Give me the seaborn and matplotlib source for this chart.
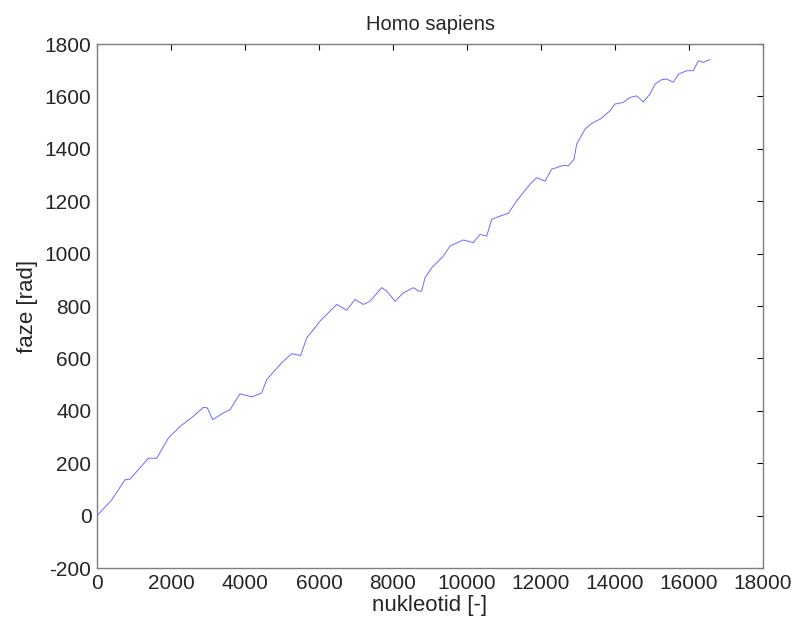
import matplotlib
matplotlib.use("Agg")
import matplotlib.pyplot as plt
import seaborn as sns
import pandas as pd

nucleotide = [0, 397, 757, 892, 1387, 1613, 1928, 2243, 2604, 2874, 2982, 3126, 3414,
              3595, 3865, 4180, 4450, 4586, 4991, 5261, 5504, 5667, 6027, 6477, 6748,
              6973, 7198, 7378, 7694, 7829, 8054, 8279, 8550, 8685, 8775, 8865, 9045,
              9360, 9540, 9901, 10171, 10351, 10532, 10667, 10892, 11117, 11342, 11703,
              11883, 12108, 12288, 12604, 12739, 12892, 12964, 13189, 13370, 13595,
              13865, 14000, 14225, 14405, 14586, 14765, 14946, 15081, 15262, 15397,
              15577, 15712, 15937, 16117, 16252, 16387, 16477, 16569]
phase = [0, 60, 137, 139, 219, 219, 296, 340, 379, 413, 411, 366, 392,
         404, 465, 453, 468, 519, 583, 618, 611, 678, 742, 806, 784,
         825, 806, 818, 870, 857, 818, 850, 870, 857, 857, 908, 946,
         990, 1029, 1052, 1042, 1073, 1067, 1131, 1143, 1154, 1201, 1265,
         1290, 1277, 1322, 1337, 1335, 1360, 1418, 1475, 1497, 1513,
         1545, 1571, 1577, 1596, 1602, 1579, 1609, 1647, 1664, 1666,
         1654, 1685, 1698, 1698, 1736, 1730, 1736, 1740]

x_ticks = [0, 2000, 4000, 6000, 8000, 10000, 12000, 14000, 16000, 18000]
y_ticks = [-200, 0, 200, 400, 600, 800, 1000, 1200, 1400, 1600, 1800]

df = pd.DataFrame({"nukleotid": nucleotide, "faze": phase})

sns.set_style("white")
plt.rcParams['font.family'] = ['Liberation Sans', 'DejaVu Sans']
plt.rcParams['axes.unicode_minus'] = False

fig = plt.figure(figsize=(7.92, 6.25), dpi=100)
ax = fig.add_axes([0.1225, 0.0912, 0.8409, 0.8384])
sns.lineplot(data=df, x="nukleotid", y="faze", ax=ax, color="#6b6bff", linewidth=0.7)

ax.set_xlim(0, 18000)
ax.set_ylim(-200, 1800)
ax.set_xticks(x_ticks)
ax.set_yticks(y_ticks)
ax.tick_params(direction="in", length=4, width=0.8, color="black",
               labelsize=15, top=True, right=True, pad=4)
for s in ax.spines.values():
    s.set_color("#7f7f7f")
    s.set_linewidth(1.0)
ax.set_xlabel("nukleotid [-]", fontsize=16, labelpad=2)
ax.set_ylabel("faze [rad]", fontsize=16, labelpad=5)
ax.set_title("Homo sapiens", fontsize=14.5, pad=10)

fig.savefig("out.png", dpi=100)
